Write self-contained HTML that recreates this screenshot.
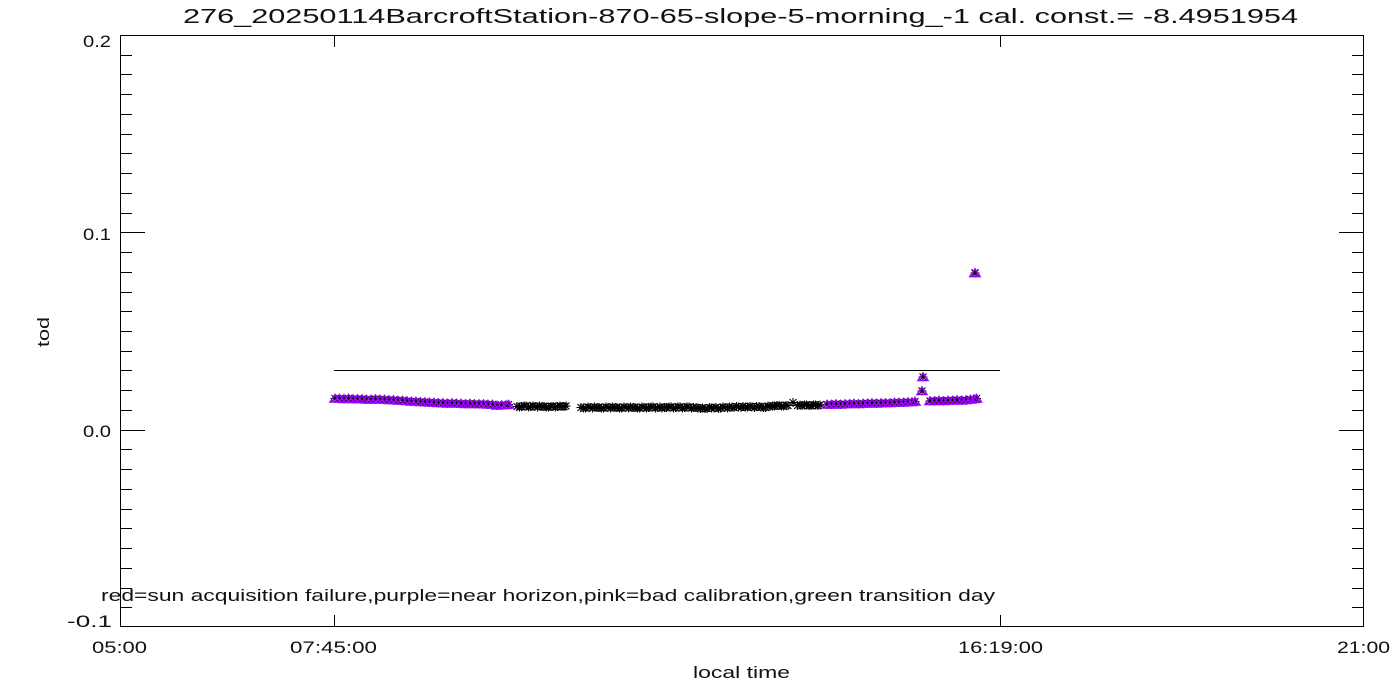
<!DOCTYPE html>
<html>
<head>
<meta charset="utf-8">
<style>
  html, body { margin: 0; padding: 0; background: #ffffff; }
  svg { display: block; }
  text { font-family: "Liberation Sans", sans-serif; fill: #111; }
</style>
</head>
<body>
<svg width="1400" height="700" viewBox="0 0 1400 700" xmlns="http://www.w3.org/2000/svg">
  <defs>
    <marker id="ast" markerUnits="userSpaceOnUse" markerWidth="12" markerHeight="12" refX="6" refY="6" overflow="visible">
      <path d="M1.5 6H10.5M6 1.5V10.5M2.5 2.5L9.5 9.5M9.5 2.5L2.5 9.5" stroke="#000" stroke-width="1.1" fill="none"/>
    </marker>
    <marker id="tri" markerUnits="userSpaceOnUse" markerWidth="12" markerHeight="12" refX="6" refY="6" overflow="visible">
      <path d="M6 2L11 9.5L1 9.5Z" stroke="#9b00ff" stroke-width="1.5" fill="none"/>
    </marker>
  </defs>
  <rect width="1400" height="700" fill="#fff"/>

  <!-- Title -->
  <text x="183" y="23" font-size="20" textLength="1115" lengthAdjust="spacingAndGlyphs">276_20250114BarcroftStation-870-65-slope-5-morning_-1 cal. const.= -8.4951954</text>

  <!-- Axes box -->
  <g shape-rendering="crispEdges" stroke="#000" stroke-width="1" fill="none">
    <rect x="120.5" y="35.5" width="1243" height="591"/>
    <path d="M120 607.5h12M120 588.5h12M120 568.5h12M120 548.5h12M120 528.5h12M120 509.5h12M120 489.5h12M120 469.5h12M120 449.5h12M120 430.5h25M120 410.5h12M120 390.5h12M120 370.5h12M120 351.5h12M120 331.5h12M120 311.5h12M120 292.5h12M120 272.5h12M120 252.5h12M120 232.5h25M120 213.5h12M120 193.5h12M120 173.5h12M120 153.5h12M120 134.5h12M120 114.5h12M120 94.5h12M120 74.5h12M120 55.5h12"/>
    <path d="M1364 607.5h-12M1364 588.5h-12M1364 568.5h-12M1364 548.5h-12M1364 528.5h-12M1364 509.5h-12M1364 489.5h-12M1364 469.5h-12M1364 449.5h-12M1364 430.5h-25M1364 410.5h-12M1364 390.5h-12M1364 370.5h-12M1364 351.5h-12M1364 331.5h-12M1364 311.5h-12M1364 292.5h-12M1364 272.5h-12M1364 252.5h-12M1364 232.5h-25M1364 213.5h-12M1364 193.5h-12M1364 173.5h-12M1364 153.5h-12M1364 134.5h-12M1364 114.5h-12M1364 94.5h-12M1364 74.5h-12M1364 55.5h-12"/>
    <path d="M334.5 627v-12M1000.5 627v-12M334.5 35v12M1000.5 35v12"/>
    <path d="M334 370.5H1000"/>
  </g>

  <!-- Y labels -->
  <text x="111" y="47" font-size="17" text-anchor="end" textLength="28" lengthAdjust="spacingAndGlyphs">0.2</text>
  <text x="111" y="240" font-size="17" text-anchor="end" textLength="28" lengthAdjust="spacingAndGlyphs">0.1</text>
  <text x="111" y="437" font-size="17" text-anchor="end" textLength="28" lengthAdjust="spacingAndGlyphs">0.0</text>
  <text x="112" y="627" font-size="17" text-anchor="end" textLength="45" lengthAdjust="spacingAndGlyphs">-0.1</text>

  <!-- X labels -->
  <text x="92" y="653" font-size="17" textLength="55" lengthAdjust="spacingAndGlyphs">05:00</text>
  <text x="290" y="653" font-size="17" textLength="87" lengthAdjust="spacingAndGlyphs">07:45:00</text>
  <text x="958" y="653" font-size="17" textLength="85" lengthAdjust="spacingAndGlyphs">16:19:00</text>
  <text x="1337" y="653" font-size="17" textLength="53" lengthAdjust="spacingAndGlyphs">21:00</text>

  <!-- Axis titles -->
  <text x="693" y="678" font-size="17" textLength="97" lengthAdjust="spacingAndGlyphs">local time</text>
  <text transform="translate(49,332) rotate(-90)" x="0" y="0" font-size="17" text-anchor="middle" textLength="30" lengthAdjust="spacingAndGlyphs">tod</text>

  <!-- Legend text -->
  <text x="101" y="601" font-size="17" textLength="894" lengthAdjust="spacingAndGlyphs">red=sun acquisition failure,purple=near horizon,pink=bad calibration,green transition day</text>

  <!-- Data: asterisks (all points) -->
  <g fill="none" stroke="none">
    <polyline marker-start="url(#ast)" marker-mid="url(#ast)" marker-end="url(#ast)"
      points="335,398.5 339.5,398.5 344,399 348.5,398.5 353,399 357.5,399 362,399 366.5,399.5 371,399.5 375.5,399 380,399.5 384.5,399.5 389,400 393.5,400 398,400.5 402.5,400.5 407,401 411.5,401.5 416,401.5 420.5,402 425,402 429.5,402.5 434,402.5 438.5,403 443,403 447.5,403.5 452,403 456.5,403.5 461,403.5 465.5,404 470,403.5 474.5,404 479,404 483.5,404 488,404.5 492.5,404.5 497,405.5 501.5,405 506,405 508.5,404.5"/>
    <polyline marker-start="url(#ast)" marker-mid="url(#ast)" marker-end="url(#ast)"
      points="517,406.5 519.5,407 521.5,406.5 524,406 526,406 528.5,407 530.5,406.5 533,406 535,406.5 537.5,407 539.5,406 542,406.5 544,406.5 546.5,407 548.5,407 551,406.5 553,406.5 555.5,407 557.5,406.5 560,406 562,406.5 564,406.5 566,406"/>
    <polyline marker-start="url(#ast)" marker-mid="url(#ast)" marker-end="url(#ast)"
      points="581,407.5 583.5,408 585.5,408 588,407 590,407.5 592.5,408 594.5,407 597,407.5 599,407.5 601.5,408 603.5,408 606,407 608,407.5 610.5,408 612.5,407 615,407.5 617,407.5 619.5,408 621.5,408 624,407 626,407.5 628.5,408 630.5,407 633,407.5 635,407.5 637.5,408 639.5,408 642,407 644,407.5 646.5,408 648.5,407.5 651,407 653,407 655.5,408 657.5,407.5 660,407 662,408 664.5,407.5 666.5,407.5 669,407 671,407 673.5,408 675.5,407.5 678,407 680,407 682.5,408 684.5,407.5 687,407 689,407 691.5,408 693.5,407.5 696,407.5 698,408 700.5,408.5 702.5,408 705,408.5 707,408.5 709.5,407.5 711.5,408 714,408 716,407.5 718.5,408.5 720.5,408 723,407 725,407.5 727.5,408 729.5,407 732,407 734,407.5 736.5,406.5 738.5,407 741,407.5 743,406.5 745.5,407 747.5,407 750,406.5 752,407 754.5,407.5 756.5,406.5 759,406.5 761,407 763.5,407.5 765.5,407.5 768,406 770,406.5 772.5,406 774.5,406 777,405.5 779,405.5 781.5,406 783.5,406 786,405.5 788,405.5 793,402.5 797.5,405.5 800,405 802,405.5 804.5,405 806.5,405 809,405.5 811,405.5 813.5,405 815.5,405 818,405.5 820,405"/>
    <polyline marker-start="url(#ast)" marker-mid="url(#ast)" marker-end="url(#ast)"
      points="827,404.5 831.5,404.5 836,404 840.5,404.5 845,404 849.5,404 854,403.5 858.5,404 863,403.5 867.5,403.5 872,403 876.5,403.5 881,403 885.5,403 890,403 894.5,402.5 899,402.5 903.5,402.5 908,402 912,402 915,401.5"/>
    <polyline marker-start="url(#ast)" marker-end="url(#ast)"
      points="922,391 923,377"/>
    <polyline marker-start="url(#ast)" marker-mid="url(#ast)" marker-end="url(#ast)"
      points="930,401 934.5,401 939,400.5 943.5,401 948,400.5 952.5,400.5 957,400 961.5,400.5 966,400 970.5,399.5 974,399 976.5,398.5"/>
    <polyline marker-start="url(#ast)" marker-end="url(#ast)" points="975,273 975,273"/>
  </g>

  <!-- Data: purple triangles (near horizon) -->
  <g fill="none" stroke="none">
    <polyline marker-start="url(#tri)" marker-mid="url(#tri)" marker-end="url(#tri)"
      points="335,398.5 339.5,398.5 344,399 348.5,398.5 353,399 357.5,399 362,399 366.5,399.5 371,399.5 375.5,399 380,399.5 384.5,399.5 389,400 393.5,400 398,400.5 402.5,400.5 407,401 411.5,401.5 416,401.5 420.5,402 425,402 429.5,402.5 434,402.5 438.5,403 443,403 447.5,403.5 452,403 456.5,403.5 461,403.5 465.5,404 470,403.5 474.5,404 479,404 483.5,404 488,404.5 492.5,404.5 497,405.5 501.5,405 506,405 508.5,404.5"/>
    <polyline marker-start="url(#tri)" marker-mid="url(#tri)" marker-end="url(#tri)"
      points="827,404.5 831.5,404.5 836,404 840.5,404.5 845,404 849.5,404 854,403.5 858.5,404 863,403.5 867.5,403.5 872,403 876.5,403.5 881,403 885.5,403 890,403 894.5,402.5 899,402.5 903.5,402.5 908,402 912,402 915,401.5"/>
    <polyline marker-start="url(#tri)" marker-end="url(#tri)" points="922,391 923,377"/>
    <polyline marker-start="url(#tri)" marker-mid="url(#tri)" marker-end="url(#tri)"
      points="930,401 934.5,401 939,400.5 943.5,401 948,400.5 952.5,400.5 957,400 961.5,400.5 966,400 970.5,399.5 974,399 976.5,398.5"/>
    <polyline marker-start="url(#tri)" marker-end="url(#tri)" points="975,273 975,273"/>
  </g>
</svg>
</body>
</html>
